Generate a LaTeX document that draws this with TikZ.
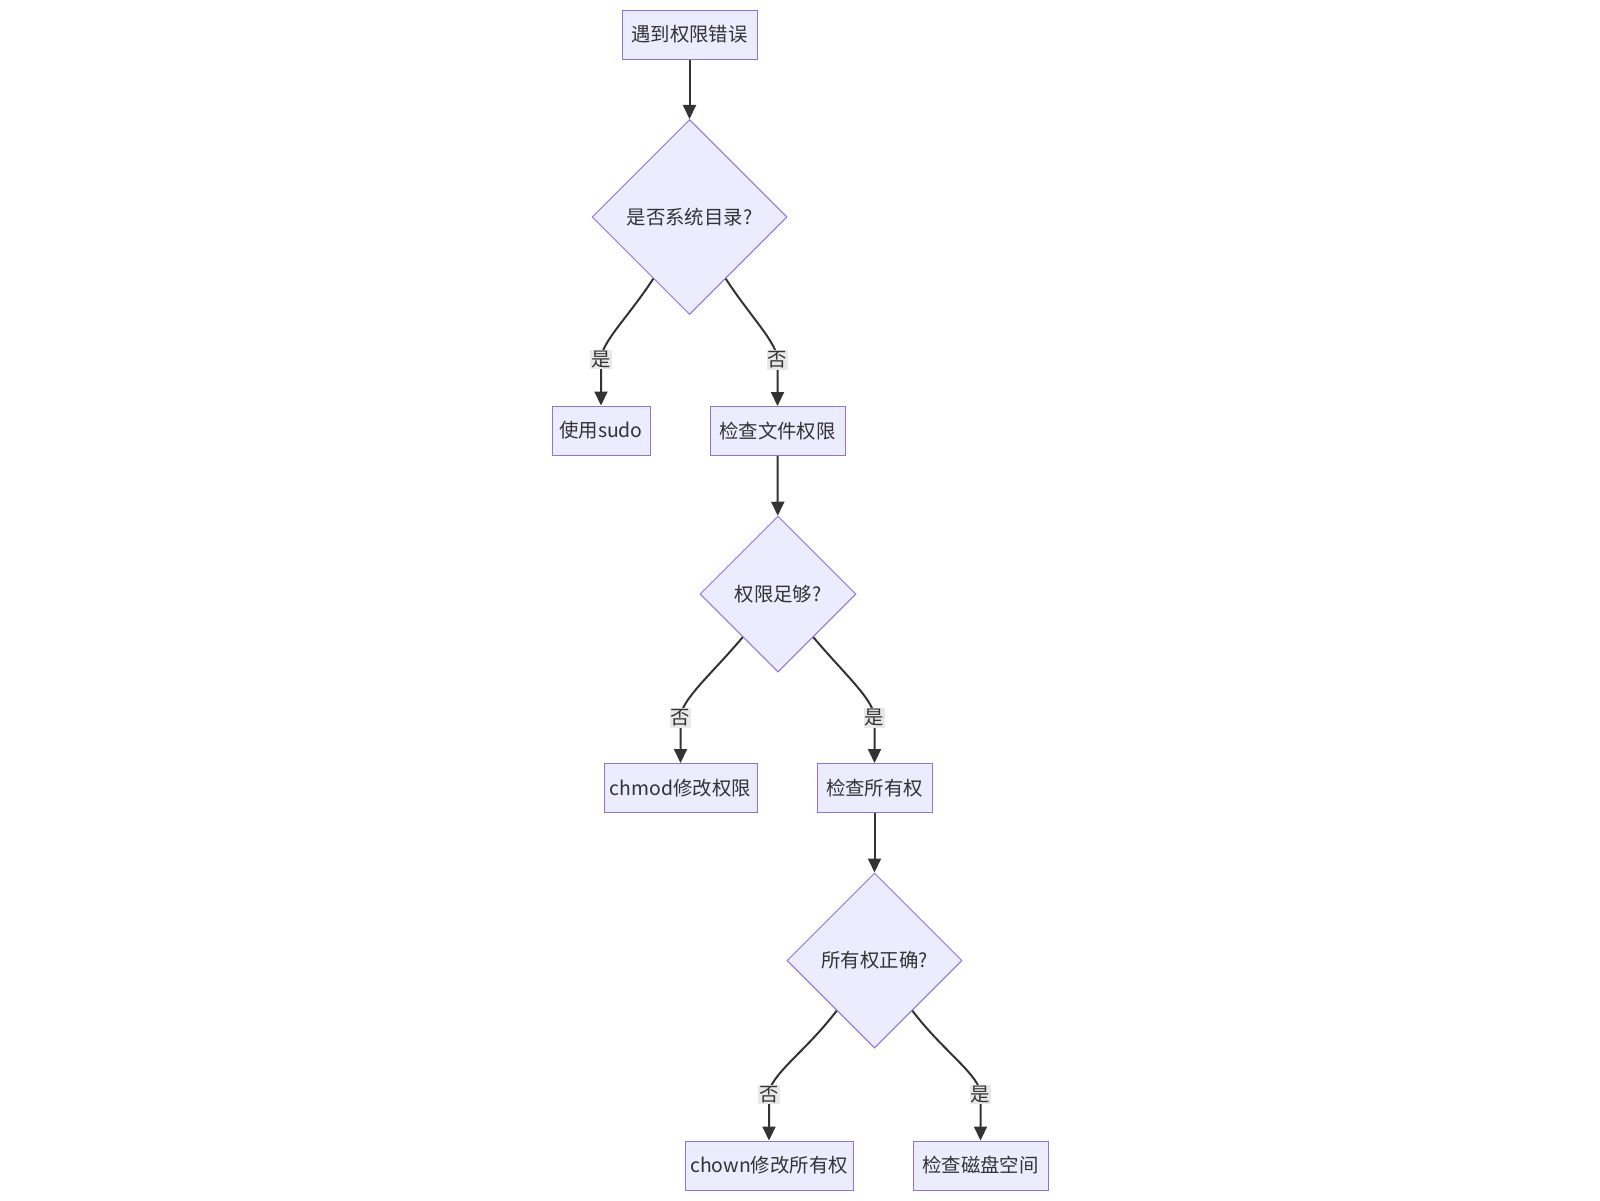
\documentclass[tikz,border=0pt]{standalone}
\usepackage{fontspec}
\setmainfont{Noto Sans CJK SC}
\usetikzlibrary{shapes.geometric}
\usetikzlibrary{positioning,calc,arrows.meta}
\definecolor{boxfill}{HTML}{ECECFF}
\definecolor{boxline}{HTML}{9370DB}
\definecolor{edgeline}{HTML}{333333}
\definecolor{lblfill}{HTML}{E8E8E8}
\tikzset{
  block/.style={rectangle,draw=boxline,fill=boxfill,line width=0.5pt,minimum height=24.5pt,inner sep=0pt,text=edgeline},
  decision/.style={diamond,draw=boxline,fill=boxfill,line width=0.5pt,inner sep=0pt,aspect=1,text=edgeline},
  lbl/.style={fill=lblfill,inner sep=0.6pt,text=edgeline},
  flow/.style={draw=edgeline,line width=1pt,-{Triangle[length=7pt,width=6.5pt]}},
  sweep/.style={out looseness=1.2,in looseness=0.45}
}

\begin{document}
\begin{tikzpicture}[x=0.5pt,y=-0.5pt,font=\fontsize{9.7}{11}\selectfont]
    \useasboundingbox (0,0) rectangle (1600,1200);
    \node at (689.5, 34.5) [block, minimum width=67.5pt] (err) {遇到权限错误};
    \node at (689.5, 217) [decision, minimum width=97.5pt, minimum height=97.5pt] (sysdir) {是否系统目录?};
    \node at (601, 430.5) [block, minimum width=49pt] (sudo) {使用sudo};
    \node at (777.5, 431) [block, minimum width=67.5pt] (filechk) {检查文件权限};
    \node at (778, 594) [decision, minimum width=78pt, minimum height=78pt] (enough) {权限足够?};
    \node at (680.5, 788) [block, minimum width=76.5pt] (chmod) {chmod修改权限};
    \node at (874.5, 788) [block, minimum width=57.5pt] (ownchk) {检查所有权};
    \node at (874.5, 960.5) [decision, minimum width=87.5pt, minimum height=87.5pt] (owner) {所有权正确?};
    \node at (769, 1165.5) [block, minimum width=84pt] (chown) {chown修改所有权};
    \node at (980.5, 1165.5) [block, minimum width=67.5pt] (disk) {检查磁盘空间};

    % label points, just above the target boxes
    \coordinate (l1) at ($(sudo.north)+(0,-46)$);
    \coordinate (l2) at ($(filechk.north)+(0,-46)$);
    \coordinate (l3) at ($(chmod.north)+(0,-45)$);
    \coordinate (l4) at ($(ownchk.north)+(0,-45)$);
    \coordinate (l5) at ($(chown.north)+(0,-46)$);
    \coordinate (l6) at ($(disk.north)+(0,-46)$);

    \draw[flow] (err) -- (sysdir);
    \draw[flow] ($(sysdir.south)!0.37!(sysdir.west)$) to[out=237,in=90,sweep] (l1) node[lbl] {是} -- (sudo.north);
    \draw[flow] ($(sysdir.south)!0.37!(sysdir.east)$) to[out=303,in=90,sweep] (l2) node[lbl] {否} -- (filechk.north);
    \draw[flow] (filechk) -- (enough);
    \draw[flow] ($(enough.south)!0.45!(enough.west)$) to[out=230,in=90,sweep] (l3) node[lbl] {否} -- (chmod.north);
    \draw[flow] ($(enough.south)!0.45!(enough.east)$) to[out=310,in=90,sweep] (l4) node[lbl] {是} -- (ownchk.north);
    \draw[flow] (ownchk) -- (owner);
    \draw[flow] ($(owner.south)!0.43!(owner.west)$) to[out=233,in=90,sweep] (l5) node[lbl] {否} -- (chown.north);
    \draw[flow] ($(owner.south)!0.43!(owner.east)$) to[out=307,in=90,sweep] (l6) node[lbl] {是} -- (disk.north);

\end{tikzpicture}
\end{document}
